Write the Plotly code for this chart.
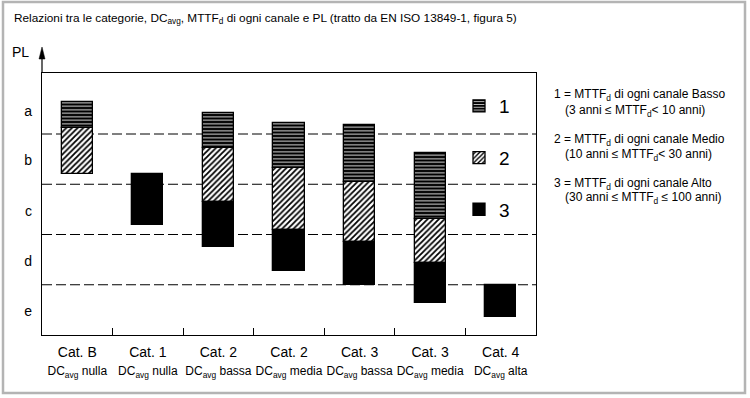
import plotly.graph_objects as go

# ---------------- data ----------------
categories = ["Cat. B", "Cat. 1", "Cat. 2", "Cat. 2", "Cat. 3", "Cat. 3", "Cat. 4"]
dc_levels = ["nulla", "nulla", "bassa", "media", "bassa", "media", "alta"]
pl_levels = ["e", "d", "c", "b", "a"]
pl_positions = [0.47, 1.47, 2.47, 3.48, 4.46]
pl_boundaries = [1, 2, 3, 4]

# segment extents on the PL scale (e: 0-1, d: 1-2, c: 2-3, b: 3-4, a: 4-)
low_bottom = [4.12, None, 3.72, 3.32, 3.04, 2.31, None]   # 1 = MTTFd Basso
low_top = [4.64, None, 4.42, 4.22, 4.18, 3.62, None]
med_bottom = [3.20, None, 2.65, 2.09, 1.85, 1.43, None]   # 2 = MTTFd Medio
med_top = [4.12, None, 3.72, 3.32, 3.04, 2.31, None]
high_bottom = [None, 2.19, 1.75, 1.27, 1.00, 0.64, 0.36]  # 3 = MTTFd Alto
high_top = [None, 3.20, 2.65, 2.09, 1.85, 1.43, 1.00]

series_names = ["1", "2", "3"]
legend_lines = [
    "1 = MTTF<sub>d</sub> di ogni canale Basso",
    "(3 anni \u2264 MTTF<sub>d</sub>< 10 anni)",
    "2 = MTTF<sub>d</sub> di ogni canale Medio",
    "(10 anni \u2264 MTTF<sub>d</sub>< 30 anni)",
    "3 = MTTF<sub>d</sub> di ogni canale Alto",
    "(30 anni \u2264 MTTF<sub>d</sub> \u2264 100 anni)",
]
title_text = ("Relazioni tra le categorie, DC<sub>avg</sub>, MTTF<sub>d</sub> di ogni canale "
              "e PL (tratto da EN ISO 13849-1, figura 5)")

# ---------------- layout geometry ----------------
W, H = 750, 398
L, R, T, B = 42, 214, 73, 63
pw, ph = W - L - R, H - T - B


def px(x):
    return (x - L) / pw


def py(y):
    return (H - B - y) / ph


FONT = "Liberation Sans, Arial, sans-serif"
x_pos = list(range(len(categories)))


def heights(bot, top):
    return [None if b is None else t - b for b, t in zip(bot, top)]


patterns = [
    dict(shape="-", fgcolor="white", bgcolor="black", size=3.5, solidity=0.25, fillmode="replace"),
    dict(shape="/", fgcolor="black", bgcolor="white", size=4, solidity=0.45, fillmode="replace"),
    None,
]
bots = [low_bottom, med_bottom, high_bottom]
tops = [low_top, med_top, high_top]

fig = go.Figure()
for i in range(3):
    marker = dict(color="black", line=dict(color="black", width=1.3))
    if patterns[i] is not None:
        marker["pattern"] = patterns[i]
    fig.add_trace(go.Bar(
        x=x_pos, y=heights(bots[i], tops[i]), base=bots[i], width=0.44,
        name=series_names[i], legendgroup=series_names[i], marker=marker,
        hoverinfo="skip",
    ))

shapes = []
for yb in pl_boundaries:
    shapes.append(dict(type="line", xref="paper", yref="y", x0=0, x1=1, y0=yb, y1=yb,
                       line=dict(color="black", width=1, dash="10px,4px"), layer="below"))
# arrow on y axis
shapes.append(dict(type="line", xref="paper", yref="paper", x0=0, x1=0, y0=1, y1=py(55),
                   line=dict(color="black", width=1.2)))
hw = 3 / pw
shapes.append(dict(type="path", xref="paper", yref="paper",
                   path=f"M {-hw} {py(59)} L {hw} {py(59)} L 0 {py(47)} Z",
                   fillcolor="black", line=dict(color="black", width=0.5)))
# outer grey frame
shapes.append(dict(type="rect", xref="paper", yref="paper",
                   x0=px(3), x1=px(745), y0=py(393), y1=py(2),
                   line=dict(color="#b4b4b4", width=2.5)))

annotations = [
    dict(text=title_text, xref="paper", yref="paper", x=px(12), y=py(18),
         xanchor="left", yanchor="middle", showarrow=False,
         font=dict(size=11.8, color="black", family=FONT)),
    dict(text="PL", xref="paper", yref="paper", x=px(20), y=py(52),
         xanchor="center", yanchor="middle", showarrow=False,
         font=dict(size=14, color="black", family=FONT)),
]
line_y = [95, 111, 140, 155, 184, 198]
line_x = [552, 563, 552, 563, 552, 563]
for t, yy, xx in zip(legend_lines, line_y, line_x):
    annotations.append(dict(text=t, xref="paper", yref="paper", x=px(xx), y=py(yy),
                            xanchor="left", yanchor="middle", showarrow=False,
                            font=dict(size=12, color="black", family=FONT)))

ticktext = [f"{c}<br><span style='font-size:12px'>DC<sub>avg</sub> {d}</span>"
            for c, d in zip(categories, dc_levels)]

fig.update_layout(
    width=W, height=H,
    margin=dict(l=L, r=R, t=T, b=B, pad=0),
    paper_bgcolor="white", plot_bgcolor="white",
    barmode="overlay", bargap=0,
    font=dict(family=FONT, color="black"),
    showlegend=True,
    legend=dict(x=px(459), y=py(87), xanchor="left", yanchor="top",
                bgcolor="rgba(0,0,0,0)", borderwidth=0,
                font=dict(size=19, color="black", family=FONT),
                tracegroupgap=24, traceorder="grouped"),
    xaxis=dict(range=[-0.5, 6.5], tickmode="array", tickvals=x_pos, ticktext=ticktext,
               ticks="", showgrid=False, zeroline=False,
               showline=True, linecolor="black", linewidth=1.2, mirror=True,
               ticklabelstandoff=4,
               tickfont=dict(size=14, color="black", family=FONT),
               minor=dict(tickmode="array", tickvals=[p + 0.5 for p in x_pos[:-1]],
                          ticks="inside", ticklen=7, tickcolor="black", tickwidth=1.2,
                          showgrid=False)),
    yaxis=dict(range=[0, (H - B - T) / 50.25], tickmode="array", tickvals=pl_positions,
               ticktext=pl_levels, ticks="", showgrid=False, zeroline=False,
               showline=True, linecolor="black", linewidth=1.2, mirror=True,
               ticklabelstandoff=6,
               tickfont=dict(size=14, color="black", family=FONT)),
    shapes=shapes, annotations=annotations,
)

fig.write_html("out.html", config={"displayModeBar": False},
               post_script="document.body.style.margin='0';document.body.style.padding='0';")
